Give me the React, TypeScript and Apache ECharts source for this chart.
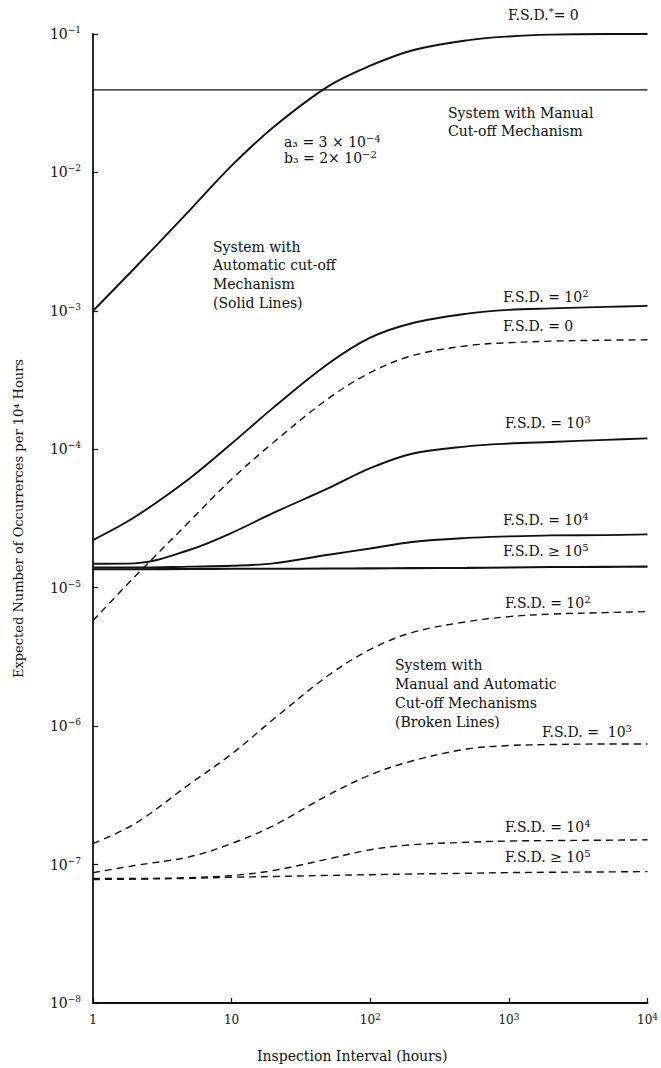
import React, { useEffect, useRef } from "react";
import * as echarts from "echarts";

// Inspection interval (hours)
const xValues = [1, 2, 5, 10, 20, 50, 100, 200, 500, 1000, 2000, 5000, 10000];

// System with Manual Cut-off Mechanism (horizontal level)
const manualCutoffLevel = 0.0395;

// Automatic cut-off mechanism (solid lines)
const autoFsdStar0 = [1.0e-3, 2.04e-3, 5.35e-3, 1.12e-2, 2.12e-2, 4.2e-2, 5.9e-2, 7.6e-2, 9.0e-2, 9.6e-2, 9.9e-2, 1.0e-1, 1.0e-1];
const autoFsd1e2 = [2.21e-5, 3.24e-5, 6.18e-5, 1.10e-4, 2.0e-4, 4.16e-4, 6.4e-4, 8.14e-4, 9.55e-4, 1.017e-3, 1.042e-3, 1.069e-3, 1.086e-3];
const autoFsd1e3 = [1.49e-5, 1.5e-5, 1.88e-5, 2.49e-5, 3.47e-5, 5.24e-5, 7.3e-5, 9.29e-5, 1.05e-4, 1.1e-4, 1.13e-4, 1.17e-4, 1.2e-4];
const autoFsd1e4 = [1.4e-5, 1.4e-5, 1.42e-5, 1.44e-5, 1.5e-5, 1.73e-5, 1.92e-5, 2.14e-5, 2.29e-5, 2.35e-5, 2.39e-5, 2.4e-5, 2.43e-5];
const autoFsd1e5 = [1.36e-5, 1.36e-5, 1.365e-5, 1.37e-5, 1.37e-5, 1.375e-5, 1.38e-5, 1.385e-5, 1.39e-5, 1.4e-5, 1.41e-5, 1.415e-5, 1.42e-5];

// Manual and automatic cut-off mechanisms (broken lines)
const combFsd0 = [5.79e-6, 1.2e-5, 3.03e-5, 6.08e-5, 1.12e-4, 2.33e-4, 3.58e-4, 4.74e-4, 5.6e-4, 5.89e-4, 6.04e-4, 6.14e-4, 6.18e-4];
const combFsd1e2 = [1.42e-7, 1.97e-7, 3.83e-7, 6.29e-7, 1.12e-6, 2.33e-6, 3.58e-6, 4.74e-6, 5.69e-6, 6.18e-6, 6.45e-6, 6.61e-6, 6.72e-6];
const combFsd1e3 = [8.75e-8, 9.84e-8, 1.14e-7, 1.42e-7, 1.91e-7, 3.19e-7, 4.44e-7, 5.6e-7, 6.84e-7, 7.24e-7, 7.36e-7, 7.43e-7, 7.43e-7];
const combFsd1e4 = [7.93e-8, 7.93e-8, 8.05e-8, 8.33e-8, 9.06e-8, 1.1e-7, 1.28e-7, 1.39e-7, 1.45e-7, 1.48e-7, 1.49e-7, 1.5e-7, 1.51e-7];
const combFsd1e5 = [7.8e-8, 7.85e-8, 7.95e-8, 8.1e-8, 8.2e-8, 8.35e-8, 8.45e-8, 8.55e-8, 8.65e-8, 8.75e-8, 8.8e-8, 8.85e-8, 8.9e-8];

const FONT = "'DejaVu Serif', 'Liberation Serif', serif";
const INK = "#111";

const pairs = (ys: number[]) => xValues.map((x, i) => [x, ys[i]]);

const richBase = {
  a: { fontSize: 14, fontFamily: FONT, color: INK, lineHeight: 17 },
  s: { fontSize: 10, fontFamily: FONT, color: INK, lineHeight: 11, verticalAlign: "top" as const },
};

const label = (x: number, y: number, text: string) => ({
  type: "text",
  x,
  y,
  style: {
    text,
    rich: richBase,
    fill: INK,
    font: `14px ${FONT}`,
    verticalAlign: "middle",
    textVerticalAlign: "middle",
    align: "left",
    textAlign: "left",
  },
  silent: true,
});

export default function App() {
  const ref = useRef<HTMLDivElement>(null);
  useEffect(() => {
    document.body.style.margin = "0";
    if (!ref.current) return;
    const chart = echarts.init(ref.current, null, { renderer: "svg" });

    const solid = (name: string, ys: number[], width = 1.9) => ({
      name,
      type: "line",
      data: pairs(ys),
      smooth: 0.35,
      symbol: "none",
      clip: false,
      lineStyle: { color: INK, width, type: "solid" },
    });
    const dashed = (name: string, ys: number[]) => ({
      name,
      type: "line",
      data: pairs(ys),
      smooth: 0.35,
      symbol: "none",
      clip: false,
      lineStyle: { color: INK, width: 1.4, type: [7, 5] },
    });

    chart.setOption({
      animation: false,
      backgroundColor: "#fff",
      textStyle: { fontFamily: FONT },
      grid: { left: 93, right: 11, top: 34, bottom: 61, containLabel: false },
      xAxis: {
        type: "log",
        logBase: 10,
        min: 1,
        max: 10000,
        interval: 1,
        name: "Inspection Interval (hours)",
        nameLocation: "middle",
        nameGap: 46,
        nameTextStyle: { fontSize: 14, fontFamily: FONT, color: INK, padding: [0, 36, 0, 0] },
        axisLine: { show: true, lineStyle: { color: INK, width: 1.8 } },
        axisTick: { show: true, inside: true, length: 5, lineStyle: { color: INK, width: 1.2 } },
        splitLine: { show: false },
        minorTick: { show: false },
        axisLabel: {
          margin: 9,
          formatter: (v: number) => {
            const e = Math.round(Math.log10(v));
            if (e === 0) return "{b|1}";
            if (e === 1) return "{b|10}";
            return `{b|10}{s|${e}}`;
          },
          rich: {
            b: { fontSize: 12, fontFamily: FONT, color: INK, lineHeight: 15 },
            s: { fontSize: 9, fontFamily: FONT, color: INK, lineHeight: 10, verticalAlign: "top" },
          },
        },
      },
      yAxis: {
        type: "log",
        logBase: 10,
        min: 1e-8,
        max: 1e-1,
        interval: 1,
        name: "Expected Number of Occurrerces per 10\u2074 Hours",
        nameLocation: "middle",
        nameGap: 68,
        nameRotate: 90,
        nameTextStyle: { fontSize: 13, fontFamily: FONT, color: INK },
        axisLine: { show: true, lineStyle: { color: INK, width: 1.8 } },
        axisTick: { show: true, inside: true, length: 5, lineStyle: { color: INK, width: 1.2 } },
        splitLine: { show: false },
        axisLabel: {
          margin: 12,
          formatter: (v: number) => {
            const e = Math.round(Math.log10(v));
            return `{b|10}{s|\u2212${-e}}`;
          },
          rich: {
            b: { fontSize: 14, fontFamily: FONT, color: INK, lineHeight: 17 },
            s: { fontSize: 9, fontFamily: FONT, color: INK, lineHeight: 10, verticalAlign: "top" },
          },
        },
      },
      series: [
        solid("F.S.D.* = 0", autoFsdStar0),
        {
          name: "System with Manual Cut-off Mechanism",
          type: "line",
          data: [
            [xValues[0], manualCutoffLevel],
            [xValues[xValues.length - 1], manualCutoffLevel],
          ],
          symbol: "none",
          clip: false,
          lineStyle: { color: INK, width: 1.4 },
        },
        solid("F.S.D. = 10^2", autoFsd1e2),
        solid("F.S.D. = 10^3", autoFsd1e3),
        solid("F.S.D. = 10^4", autoFsd1e4),
        solid("F.S.D. >= 10^5", autoFsd1e5, 2.1),
        dashed("F.S.D. = 0 (broken)", combFsd0),
        dashed("F.S.D. = 10^2 (broken)", combFsd1e2),
        dashed("F.S.D. = 10^3 (broken)", combFsd1e3),
        dashed("F.S.D. = 10^4 (broken)", combFsd1e4),
        dashed("F.S.D. >= 10^5 (broken)", combFsd1e5),
      ],
      graphic: [
        label(508, 15, "{a|F.S.D.}{s|*}{a|= 0}"),
        label(448, 113, "{a|System with Manual}"),
        label(448, 131, "{a|Cut-off Mechanism}"),
        label(284, 142, "{a|a\u2083 = 3 \u00d7 10}{s|\u22124}"),
        label(284, 158, "{a|b\u2083 = 2\u00d7 10}{s|\u22122}"),
        label(213, 247, "{a|System with}"),
        label(213, 265, "{a|Automatic cut-off}"),
        label(213, 284, "{a|Mechanism}"),
        label(213, 303, "{a|(Solid Lines)}"),
        label(503, 297, "{a|F.S.D. = 10}{s|2}"),
        label(503, 326, "{a|F.S.D. = 0}"),
        label(505, 423, "{a|F.S.D. = 10}{s|3}"),
        label(503, 520, "{a|F.S.D. = 10}{s|4}"),
        label(503, 551, "{a|F.S.D. \u2265 10}{s|5}"),
        label(505, 603, "{a|F.S.D. = 10}{s|2}"),
        label(395, 665, "{a|System with}"),
        label(395, 684, "{a|Manual and Automatic}"),
        label(395, 703, "{a|Cut-off Mechanisms}"),
        label(395, 722, "{a|(Broken Lines)}"),
        label(542, 732, "{a|F.S.D. =  10}{s|3}"),
        label(505, 827, "{a|F.S.D. = 10}{s|4}"),
        label(505, 857, "{a|F.S.D. \u2265 10}{s|5}"),
      ],
    });
    return () => chart.dispose();
  }, []);
  return <div ref={ref} style={{ width: 661, height: 1068 }} />;
}
